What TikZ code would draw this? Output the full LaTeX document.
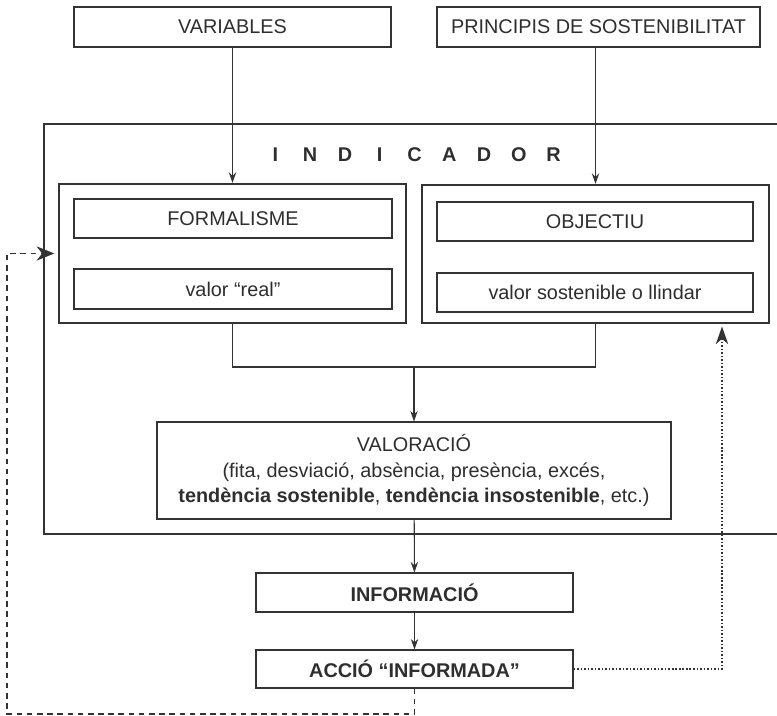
\documentclass[tikz,border=0pt]{standalone}
\usepackage{fontspec}
\setmainfont{Liberation Sans}
\usepackage{xcolor}
\usetikzlibrary{arrows.meta, calc}
\definecolor{inInk}{HTML}{2E2E2E}
\definecolor{inLine}{HTML}{333333}
\newcommand{\ltr}[1]{\makebox[19.8pt]{#1}}
\tikzset{
  wh/.style 2 args={minimum width=#1*0.02cm, minimum height=#2*0.02cm},
  box/.style   ={draw=inLine, line width=0.6pt, inner sep=0pt, align=center, text=inInk, font=\fontsize{11.3}{14.7}\selectfont},
  frame/.style ={draw=inLine, line width=1.3pt, inner sep=0pt},
  arr/.style   ={-{Stealth[length=6pt,width=4.2pt]}, line width=0.6pt, inLine},
  link/.style  ={line width=0.6pt, inLine},
  fdash/.style ={-{Stealth[length=10pt,width=8pt,inset=3pt]}, line width=1.1pt, inLine, dash pattern=on 3.2pt off 2.6pt},
  fdot/.style  ={-{Stealth[length=10pt,width=7pt,inset=3pt]}, line width=1.1pt, inLine, dash pattern=on 0.9pt off 1.1pt},
}
\begin{document}
\begin{tikzpicture}[x=0.02cm, y=-0.02cm]
\useasboundingbox (0,0) rectangle (777,716);

% inputs
\node[box, wh={317}{40}] (vars) at (232.5,27) {VARIABLES};
\node[box, wh={323}{40}] (prin) at (598.5,27) {PRINCIPIS DE SOSTENIBILITAT};

% ---- indicator frame ----
\node[frame, wh={756}{410}] (indic) at (422,329) {};
\node[box, draw=none, font=\fontsize{11.3}{14.7}\selectfont\bfseries] (ttl) at (414.5,155)
   {\ltr{I}\ltr{N}\ltr{D}\ltr{I}\ltr{C}\ltr{A}\ltr{D}\ltr{O}\ltr{R}};

\node[frame, wh={347}{139}] (lbox) at (232.5,253.5) {};
\node[frame, wh={347}{138}] (rbox) at (595.5,254) {};
\node[box, wh={318}{39}] (form)  at (233,218.5) {FORMALISME};
\node[box, wh={318}{40}] (vreal) at (233,289) {valor \char"201Creal\char"201D};
\node[box, wh={316}{39}] (obj)   at (595,221.5) {OBJECTIU};
\node[box, wh={316}{39}] (vsost) at (595,292.5) {valor sostenible o llindar};

\node[box, wh={514}{97}] (val) at (414,470.5)
   {VALORACI\'O\\(fita, desviaci\'o, abs\`encia, pres\`encia, exc\'es,\\
    \textbf{tend\`encia sostenible}, \textbf{tend\`encia insostenible}, etc.)};

% ---- outputs ----
\node[box, wh={317}{39}, font=\fontsize{11.3}{14.7}\selectfont\bfseries] (info)  at (414.5,592.5) {INFORMACI\'O};
\node[box, wh={317}{38}, font=\fontsize{11.3}{14.7}\selectfont\bfseries] (accio) at (414.5,669) {ACCI\'O \char"201CINFORMADA\char"201D};

% connectors
\coordinate (join) at (414,367);
\coordinate (fbl)  at (7,714);
\coordinate (rtip) at (722,323);
\draw[arr] (vars) -- (lbox);
\draw[arr] (rbox.north |- prin.south) -- (rbox.north);
\draw[link] (lbox.south) |- (join) -| (rbox.south);
\draw[arr] (join) -- (val.north);
\draw[arr] (val) -- (info);
\draw[arr] (info) -- (accio);

% feedback loops
\draw[fdash, shorten >=2pt] (accio.south) |- (fbl) |- (lbox.west);
\draw[fdot, shorten >=2pt] (accio.east) -| (rtip);
\end{tikzpicture}
\end{document}
